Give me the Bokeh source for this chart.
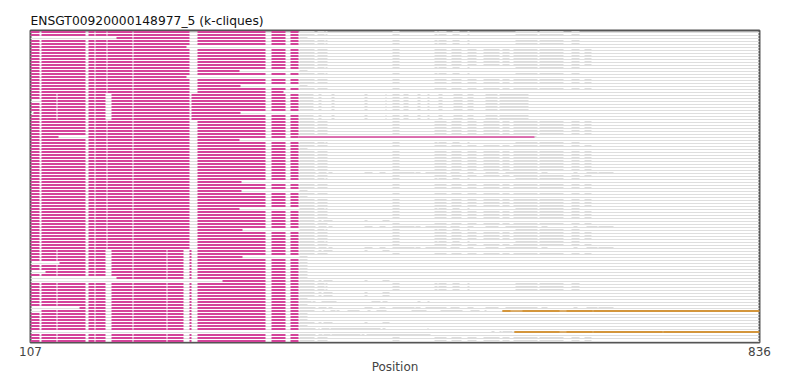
from bokeh.plotting import figure
from bokeh.models import Range1d, FixedTicker
from bokeh.embed import file_html
from bokeh.resources import INLINE

TITLE = "ENSGT00920000148977_5 (k-cliques)"
X_START, X_END = 107, 836
X_TICKS = [107, 836]
N_ROWS = 104
CLIQUE_START, CLIQUE_END = 107, 375

# gaps (no residue) inside the clique block, in alignment positions
GAPS_A = [[116, 118], [162, 165], [171, 172], [183, 184], [209, 210],
          [266, 274], [342, 348], [362, 367]]
GAPS_B = [[116, 118], [133, 134], [162, 165], [171, 172], [182, 188],
          [209, 210], [266, 268], [342, 348], [362, 367]]
GAPS_C = [[116, 118], [133, 134], [162, 165], [171, 172], [182, 188],
          [209, 210], [243, 244], [260, 266], [268, 274], [342, 348], [362, 367]]
ROWS_GAPS_B = [21, 22, 23, 24, 25, 26, 27, 28, 29]
ROWS_GAPS_C = [73, 74, 75, 76, 77, 78, 79, 80, 81, 82, 83, 84, 85, 86, 87, 88,
               89, 90, 91, 92, 93, 94, 95, 96, 97, 98, 99, 101, 102, 103]

# clique (magenta) extent overrides per row
MAG_START = {2: 193, 23: 116, 27: 110, 77: 136, 80: 122, 82: 193, 83: 299,
             92: 156, 93: 116}
MAG_END = {5: 263, 13: 316, 15: 263, 18: 317, 20: 360, 27: 317, 36: 316,
           50: 318, 53: 318, 59: 316, 66: 319, 75: 319}
NO_MAG = [100]
EXTRA_GAPS = {35: [[135, 162]]}
MAG_THIN = {35: [375, 611]}

# aligned (grey) residue blocks outside the clique block
TPL = {
    "A": [[376, 391], [394, 401], [402, 404], [469, 476], [511, 514], [515, 523],
          [529, 536], [544, 546], [592, 614], [616, 640], [648, 656]],
    "B": [[376, 391], [394, 404], [469, 476], [511, 523], [528, 538], [544, 553],
          [560, 576], [579, 586], [590, 614], [616, 640], [648, 656], [661, 668]],
    "C": [[376, 390], [395, 398], [408, 411], [441, 444], [462, 463], [469, 476],
          [480, 485], [494, 497], [504, 506], [515, 519], [530, 539], [544, 550],
          [562, 574], [576, 605]],
    "K": [[376, 392], [395, 403], [405, 409], [441, 449], [456, 462], [469, 491],
          [492, 497], [502, 523], [527, 536], [544, 550], [562, 575], [582, 614],
          [618, 624], [650, 654], [663, 674], [675, 690]],
    "D": [[376, 384]],
    "E": [[376, 391], [395, 398], [400, 409], [441, 444], [459, 466]],
    "F": [[376, 391], [399, 401], [407, 412], [413, 416], [424, 436], [444, 447],
          [453, 463], [488, 503], [517, 539], [547, 556], [561, 563]],
    "G": [[376, 392], [395, 399], [400, 407], [408, 437], [438, 441], [443, 507]],
    "H": [[376, 392], [395, 396], [398, 406], [407, 457], [459, 462], [504, 505]],
    "I": [[376, 388], [389, 392], [398, 413], [448, 457], [459, 464], [494, 497],
          [504, 506]],
    "O": [[568, 571], [576, 578], [579, 589], [590, 591]],
    "S": [[611, 613]],
    "-": [],
}
ROW_TPL = ["A", "A", "D", "A", "A", "-", "B", "B", "B", "B",
           "B", "B", "A", "D", "A", "-", "B", "B", "D", "B",
           "-", "C", "C", "C", "C", "C", "C", "-", "C", "C",
           "B", "B", "B", "B", "B", "S", "-", "A", "B", "D",
           "B", "B", "B", "B", "B", "B", "B", "K", "B", "A",
           "-", "B", "B", "D", "B", "D", "B", "B", "B", "A",
           "B", "B", "B", "E", "B", "K", "A", "B", "B", "B",
           "A", "B", "K", "E", "B", "D", "D", "D", "D", "D",
           "D", "D", "D", "E", "A", "A", "A", "E", "E", "D",
           "I", "D", "K", "F", "D", "D", "D", "E", "D", "H",
           "O", "G", "B", "B"]

# second clique (orange)
ORANGE_BLOCKS = {93: [[579, 587], [599, 636], [643, 669], [670, 836]],
                 100: [[591, 636], [643, 669], [670, 739], [740, 836]]}
ORANGE_THIN = {93: [579, 836], 100: [591, 836]}

MAGENTA = "#d4449a"
ORANGE = "#d4963c"
GREY_BLOCK = "#dddddd"
GREY_LINE = "#dedede"


def subtract(lo, hi, gaps):
    segs = []
    cur = lo
    for g0, g1 in sorted(gaps):
        if g1 <= cur or g0 >= hi:
            continue
        if g0 > cur:
            segs.append((cur, g0))
        cur = max(cur, g1)
    if cur < hi:
        segs.append((cur, hi))
    return segs


# grey thin lines sit in the lower pixel of each 2 px bar
THIN_OFF = 1.0 / 6.0

thin_y, thin_l, thin_r = [], [], []
grey_y, grey_l, grey_r = [], [], []
mag_y, mag_l, mag_r = [], [], []
magt_y, magt_l, magt_r = [], [], []
or_y, or_l, or_r = [], [], []
ort_y, ort_l, ort_r = [], [], []

for i in range(N_ROWS):
    thin_y.append(i + THIN_OFF); thin_l.append(X_START); thin_r.append(X_END)
    for a, b in TPL[ROW_TPL[i]]:
        grey_y.append(i); grey_l.append(a); grey_r.append(b)
    if i not in NO_MAG:
        lo = MAG_START.get(i, CLIQUE_START)
        hi = MAG_END.get(i, CLIQUE_END)
        gaps = GAPS_B if i in ROWS_GAPS_B else (GAPS_C if i in ROWS_GAPS_C else GAPS_A)
        gaps = gaps + EXTRA_GAPS.get(i, [])
        for a, b in subtract(lo, hi, gaps):
            mag_y.append(i); mag_l.append(a); mag_r.append(b)
    if i in MAG_THIN:
        magt_y.append(i); magt_l.append(MAG_THIN[i][0]); magt_r.append(MAG_THIN[i][1])
    if i in ORANGE_BLOCKS:
        ort_y.append(i); ort_l.append(ORANGE_THIN[i][0]); ort_r.append(ORANGE_THIN[i][1])
        for a, b in ORANGE_BLOCKS[i]:
            or_y.append(i); or_l.append(a); or_r.append(b)

# 3 px per row
p = figure(frame_width=729, frame_height=312, output_backend="svg", toolbar_location=None,
           x_range=Range1d(X_START, X_END),
           y_range=Range1d(N_ROWS - 0.5, -0.5),
           min_border_left=30, min_border_right=30, min_border_top=30,
           min_border_bottom=33, title=TITLE)

TH, BH, CTH = 1.0 / 3.0, 2.0 / 3.0, 0.42
p.hbar(y=thin_y, left=thin_l, right=thin_r, height=TH, fill_color=GREY_LINE, line_color=None)
p.hbar(y=grey_y, left=grey_l, right=grey_r, height=BH, fill_color=GREY_BLOCK, line_color=None)
p.hbar(y=magt_y, left=magt_l, right=magt_r, height=CTH, fill_color=MAGENTA, line_color=None)
p.hbar(y=mag_y, left=mag_l, right=mag_r, height=BH, fill_color=MAGENTA, line_color=None)
p.hbar(y=ort_y, left=ort_l, right=ort_r, height=CTH, fill_color=ORANGE, line_color=None)
p.hbar(y=or_y, left=or_l, right=or_r, height=BH, fill_color=ORANGE, line_color=None)

p.title.text_font = "DejaVu Sans"
p.title.text_font_size = "12.3px"
p.title.text_font_style = "normal"
p.title.text_color = "#111111"
p.title.standoff = 6
p.title.offset = 0

p.yaxis.visible = False
p.xgrid.visible = False
p.ygrid.visible = False
p.xaxis.ticker = FixedTicker(ticks=X_TICKS)
p.xaxis.axis_label = "Position"
p.xaxis.axis_label_text_font = "DejaVu Sans"
p.xaxis.axis_label_text_font_size = "12px"
p.xaxis.axis_label_text_font_style = "normal"
p.xaxis.axis_label_standoff = 1
p.xaxis.major_label_text_font = "DejaVu Sans"
p.xaxis.major_label_text_font_size = "12px"
p.xaxis.major_label_standoff = 4
p.xaxis.major_tick_out = 0
p.xaxis.major_tick_in = 0
p.xaxis.minor_tick_out = 0
p.xaxis.minor_tick_in = 0
p.xaxis.major_tick_line_color = None
p.xaxis.minor_tick_line_color = None
p.xaxis.axis_line_color = None
p.outline_line_color = "#555555"
p.outline_line_width = 2
p.background_fill_color = "white"
p.border_fill_color = "white"

open("out.html", "w").write(file_html(p, INLINE))
